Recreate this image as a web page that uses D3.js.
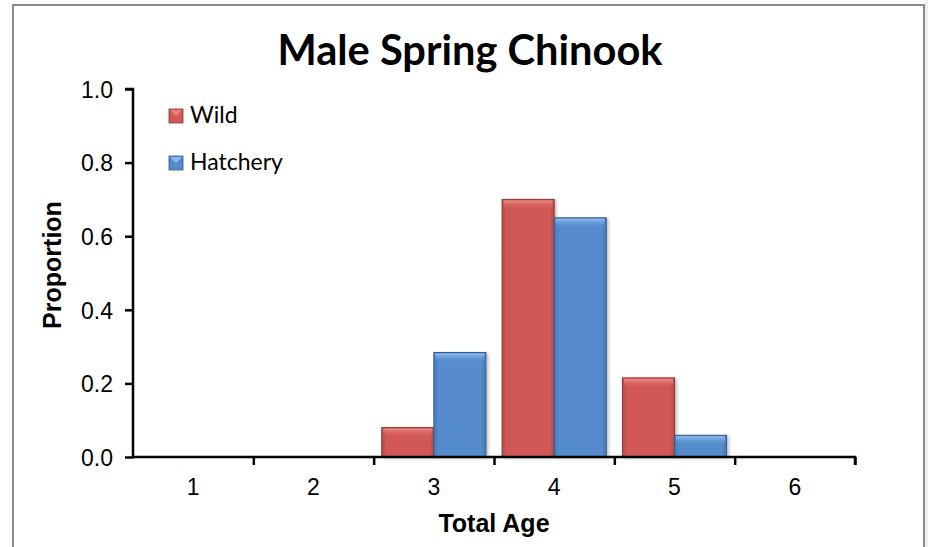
<!DOCTYPE html>
<html>
<head>
<meta charset="utf-8">
<script src="https://cdn.jsdelivr.net/npm/d3@7"></script>
<style>
    html, body { margin: 0; padding: 0; background: #fff; }
    svg { display: block; }
</style>
</head>
<body>
<svg id="Chart" width="928" height="547"></svg>
<script>
(function(window) {
    'use strict';

    var categories = ['1', '2', '3', '4', '5', '6'];
    var seriesNames = ['Wild', 'Hatchery'];
    var wild = [0, 0, 0.08, 0.70, 0.215, 0];
    var hatchery = [0, 0, 0.284, 0.65, 0.059, 0];
    var yTicks = [0, 0.2, 0.4, 0.6, 0.8, 1.0];

    var colors = {
        Wild:     { base: '#B84B48', light: '#D25956', top: '#EE8C88', edge: '#8C3836' },
        Hatchery: { base: '#467AB6', light: '#568CCE', top: '#93C2F2', edge: '#385D8A' }
    };

    var svg = d3.select('#Chart');
    var defs = svg.append('defs');

    /******************************************************************
        frame
     ******************************************************************/
    svg.append('rect')
        .attr('x', 925).attr('y', 0)
        .attr('width', 3).attr('height', 547)
        .style('fill', '#eeeeee');

    svg.append('rect')
        .attr('x', 13).attr('y', 5)
        .attr('width', 911).attr('height', 560)
        .style('fill', '#fff')
        .style('stroke', '#8a8a8a')
        .style('stroke-width', 2);

    /******************************************************************
        scales
     ******************************************************************/
    var x0 = d3.scaleBand()
        .domain(categories)
        .range([133, 855]);

    var x1 = d3.scaleBand()
        .domain(seriesNames)
        .range([0, x0.bandwidth()])
        .paddingOuter(0.155);

    var y = d3.scaleLinear()
        .domain([0, 1])
        .range([457, 89]);

    /******************************************************************
        bar fills: horizontal shading + top bevel
     ******************************************************************/
    seriesNames.forEach(function(name) {
        var c = colors[name];
        var g = defs.append('linearGradient')
            .attr('id', 'grad' + name)
            .attr('x1', 0).attr('x2', 1).attr('y1', 0).attr('y2', 0);
        g.append('stop').attr('offset', '0%').attr('stop-color', c.base);
        g.append('stop').attr('offset', '10%').attr('stop-color', c.light);
        g.append('stop').attr('offset', '90%').attr('stop-color', c.light);
        g.append('stop').attr('offset', '100%').attr('stop-color', c.base);

        var t = defs.append('linearGradient')
            .attr('id', 'top' + name)
            .attr('x1', 0).attr('x2', 0).attr('y1', 0).attr('y2', 1);
        t.append('stop').attr('offset', '0%').attr('stop-color', c.top).attr('stop-opacity', 0.95);
        t.append('stop').attr('offset', '100%').attr('stop-color', c.light).attr('stop-opacity', 0);
    });

    defs.append('filter')
        .attr('id', 'shadow')
        .attr('x', '-20%').attr('y', '-20%').attr('width', '140%').attr('height', '140%')
        .append('feDropShadow')
            .attr('dx', 2).attr('dy', 1)
            .attr('stdDeviation', 1.5)
            .attr('flood-color', '#000')
            .attr('flood-opacity', 0.25);

    var rows = [];
    categories.forEach(function(cat, i) {
        rows.push({ cat: cat, name: 'Wild', value: wild[i] });
        rows.push({ cat: cat, name: 'Hatchery', value: hatchery[i] });
    });
    rows = rows.filter(function(d) { return d.value > 0; });

    var bars = svg.append('g').attr('class', 'bars')
        .selectAll('g')
        .data(rows)
        .enter().append('g')
            .attr('transform', function(d) {
                return 'translate(' + (x0(d.cat) + x1(d.name)) + ',0)';
            });

    bars.append('rect')
        .attr('x', 0)
        .attr('y', function(d) { return y(d.value); })
        .attr('width', x1.bandwidth())
        .attr('height', function(d) { return y(0) - y(d.value); })
        .attr('filter', 'url(#shadow)')
        .style('fill', function(d) { return 'url(#grad' + d.name + ')'; })
        .style('stroke', function(d) { return colors[d.name].edge; })
        .style('stroke-width', 1);

    bars.append('rect')
        .attr('x', 1.5)
        .attr('y', function(d) { return y(d.value) + 1; })
        .attr('width', x1.bandwidth() - 3)
        .attr('height', function(d) { return Math.min(9, y(0) - y(d.value) - 2); })
        .style('fill', function(d) { return 'url(#top' + d.name + ')'; });

    /******************************************************************
        axes
     ******************************************************************/
    var yAxis = svg.append('g')
        .attr('transform', 'translate(133,0)')
        .call(d3.axisLeft(y)
            .tickValues(yTicks)
            .tickSize(8)
            .tickPadding(12)
            .tickFormat(d3.format('.1f')));

    var xAxis = svg.append('g')
        .attr('transform', 'translate(0,457)')
        .call(d3.axisBottom(d3.scaleLinear().domain([0, 6]).range([133, 855]))
            .ticks(6)
            .tickSize(8)
            .tickFormat(''));

    xAxis.selectAll('.tick').filter(function(d) { return d === 0; }).remove();

    [yAxis, xAxis].forEach(function(ax) {
        ax.select('.domain')
            .style('stroke', '#000')
            .style('stroke-width', 2.5);
        ax.selectAll('.tick line')
            .style('stroke', '#000')
            .style('stroke-width', 2.5);
    });

    yAxis.select('.domain').attr('d', 'M-8,' + y(1) + 'H0V' + (y(0) + 1.25));
    xAxis.select('.domain').attr('d', 'M132,0H' + 855 + 'V8');

    yAxis.selectAll('.tick text')
        .attr('dy', '0.36em')
        .style('font-family', '"Liberation Sans", Arial, sans-serif')
        .style('font-size', '23px')
        .style('fill', '#000');

    svg.append('g')
        .selectAll('text')
        .data(categories)
        .enter().append('text')
            .attr('x', function(d) { return x0(d) + x0.bandwidth() / 2; })
            .attr('y', 495)
            .attr('text-anchor', 'middle')
            .style('font-family', '"Liberation Sans", Arial, sans-serif')
            .style('font-size', '23px')
            .text(function(d) { return d; });

    /******************************************************************
        titles
     ******************************************************************/
    var title = svg.append('text')
        .attr('x', 470)
        .attr('y', 65)
        .attr('text-anchor', 'middle')
        .style('font-family', 'Lato, "Open Sans", sans-serif')
        .style('font-weight', 'bold')
        .style('font-size', '38px')
        .text('Male Spring Chinook');

    // squeeze/stretch the font size so the title spans what the original does
    var tw = title.node().getComputedTextLength();
    title.style('font-size', (38 * 385 / tw).toFixed(1) + 'px');

    svg.append('text')
        .attr('x', 494)
        .attr('y', 532)
        .attr('text-anchor', 'middle')
        .style('font-family', '"Liberation Sans", Arial, sans-serif')
        .style('font-weight', 'bold')
        .style('font-size', '25px')
        .text('Total Age');

    svg.append('text')
        .attr('transform', 'translate(61,265) rotate(-90)')
        .attr('text-anchor', 'middle')
        .style('font-family', '"Liberation Sans", Arial, sans-serif')
        .style('font-weight', 'bold')
        .style('font-size', '25px')
        .text('Proportion');

    /******************************************************************
        legend
     ******************************************************************/
    var legend = svg.append('g')
        .selectAll('g')
        .data(seriesNames)
        .enter().append('g')
            .attr('transform', function(d, i) { return 'translate(169,' + (109 + i * 47) + ')'; });

    legend.append('rect')
        .attr('width', 14).attr('height', 14)
        .style('fill', function(d) { return 'url(#grad' + d + ')'; })
        .style('stroke', function(d) { return colors[d].edge; })
        .style('stroke-width', 0.8);

    legend.append('path')
        .attr('d', 'M1,1 L13,1 L7,7 Z')
        .style('fill', function(d) { return colors[d].top; })
        .style('opacity', 0.8);

    legend.append('text')
        .attr('x', 21)
        .attr('y', 14)
        .style('font-family', 'Lato, "Open Sans", sans-serif')
        .style('font-size', '23px')
        .text(function(d) { return d; });

    window.VIZ = { x0: x0, y: y };
})(window);
</script>
</body>
</html>
